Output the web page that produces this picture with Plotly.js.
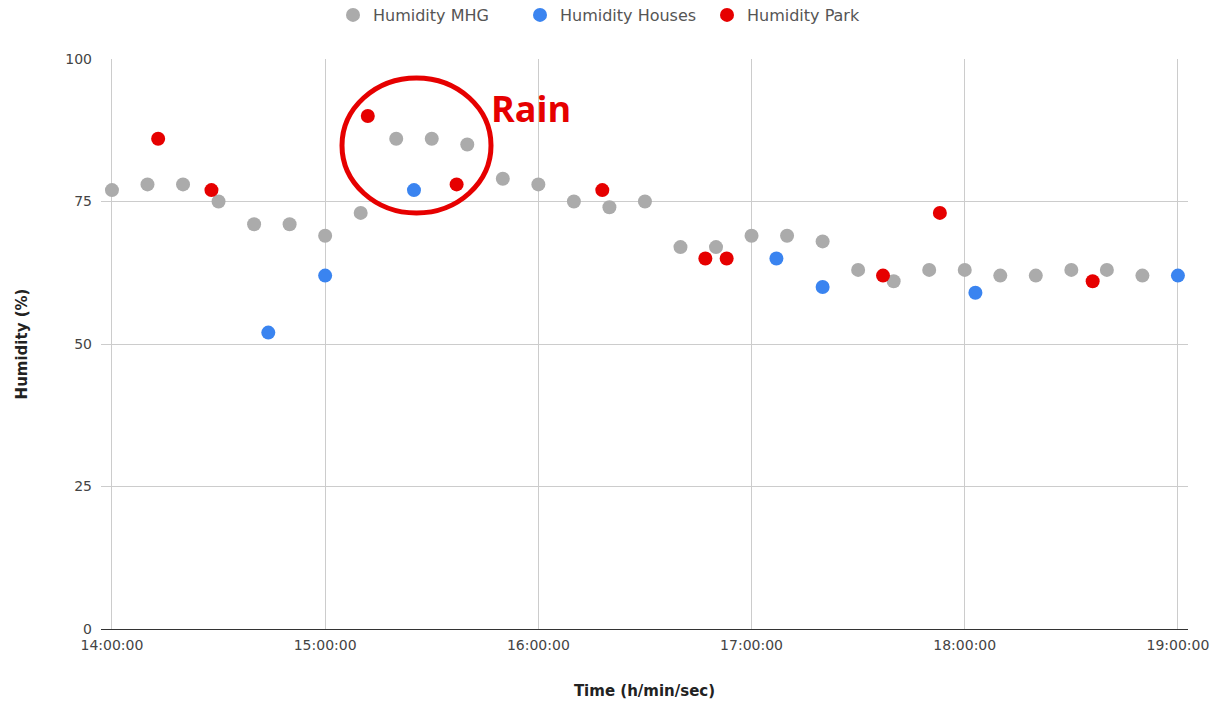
<!DOCTYPE html>
<html>
<head>
<meta charset="utf-8">
<script src="https://cdn.plot.ly/plotly-3.0.1.min.js"></script>
<style>html,body{margin:0;padding:0;background:#fff;}#chart{width:1229px;height:702px;}</style>
</head>
<body>
<div id="chart"></div>
<script>
// Humidity MHG (grey)
const mhgTimes = ['14:00','14:10','14:20','14:30','14:40','14:50','15:00','15:10','15:20','15:30','15:40','15:50','16:00','16:10','16:20','16:30','16:40','16:50','17:00','17:10','17:20','17:30','17:40','17:50','18:00','18:10','18:20','18:30','18:40','18:50'];
const mhgValues = [77,78,78,75,71,71,69,73,86,86,85,79,78,75,74,75,67,67,69,69,68,63,61,63,63,62,62,63,63,62];
// Humidity Houses (blue)
const housesTimes = ['14:44','15:00','15:25','17:07','17:20','18:03','19:00'];
const housesValues = [52,62,77,65,60,59,62];
// Humidity Park (red)
const parkTimes = ['14:13','14:28','15:12','15:37','16:18','16:47','16:53','17:37','17:53','18:36'];
const parkValues = [86,77,90,78,77,65,65,62,73,61];

const yTicks = [0,25,50,75,100];
const xTickTimes = ['14:00','15:00','16:00','17:00','18:00','19:00'];

const day = '2024-01-01 ';
const toDate = t => day + t + ':00';

const font = '"DejaVu Sans", Arial, sans-serif';

const traces = [
  {name:'Humidity MHG', x: mhgTimes.map(toDate), y: mhgValues, type:'scatter', mode:'markers',
   marker:{color:'#ababab', size:14}},
  {name:'Humidity Houses', x: housesTimes.map(toDate), y: housesValues, type:'scatter', mode:'markers',
   marker:{color:'#3a84f0', size:14}},
  {name:'Humidity Park', x: parkTimes.map(toDate), y: parkValues, type:'scatter', mode:'markers',
   marker:{color:'#e60000', size:14}}
];

const layout = {
  width:1229, height:702,
  margin:{l:101, r:41, t:59, b:73, autoexpand:false},
  paper_bgcolor:'#fff', plot_bgcolor:'#fff',
  font:{family:font, size:14, color:'#444'},
  showlegend:true,
  legend:{orientation:'h', xref:'container', yref:'container', x:333/1229, xanchor:'left', y:1-15/702, yanchor:'middle',
          font:{family:font, size:16, color:'#555'}, itemwidth:30, tracegroupgap:0,
          entrywidth:142, entrywidthmode:'pixels'},
  xaxis:{
    type:'date',
    range:[day+'13:56:55', day+'19:02:50'],
    tickvals: xTickTimes.map(toDate),
    ticktext: xTickTimes.map(t => t + ':00'),
    showgrid:true, gridcolor:'#cccccc', gridwidth:1,
    zeroline:false, showline:false, ticks:'',
    ticklabelstandoff:6,
    tickfont:{family:font, size:14, color:'#444'},
    title:{text:'Time (h/min/sec)', font:{family:font, size:15, color:'#222', weight:'bold'}, standoff:33},
    automargin:false
  },
  yaxis:{
    range:[0,100],
    tickvals: yTicks,
    showgrid:true, gridcolor:'#cccccc', gridwidth:1,
    zeroline:true, zerolinecolor:'#333', zerolinewidth:1,
    showline:false, ticks:'',
    ticklabelstandoff:8,
    tickfont:{family:font, size:14, color:'#444'},
    title:{text:'Humidity (%)', font:{family:font, size:15, color:'#222', weight:'bold'}, standoff:34},
    automargin:false
  },
  shapes:[
    {type:'circle', xref:'paper', yref:'paper',
     x0:(342-101)/1087, x1:(491-101)/1087, y0:(629-213)/570, y1:(629-78)/570,
     line:{color:'#e60000', width:5}}
  ],
  annotations:[
    {text:'<b>Rain</b>', xref:'paper', yref:'paper', x:(531-101)/1087, y:(629-108)/570,
     xanchor:'center', yanchor:'middle', showarrow:false,
     font:{family:'"Open Sans", sans-serif', size:36, color:'#e60000'}}
  ]
};

Plotly.newPlot('chart', traces, layout, {displayModeBar:false, staticPlot:true});
</script>
</body>
</html>
